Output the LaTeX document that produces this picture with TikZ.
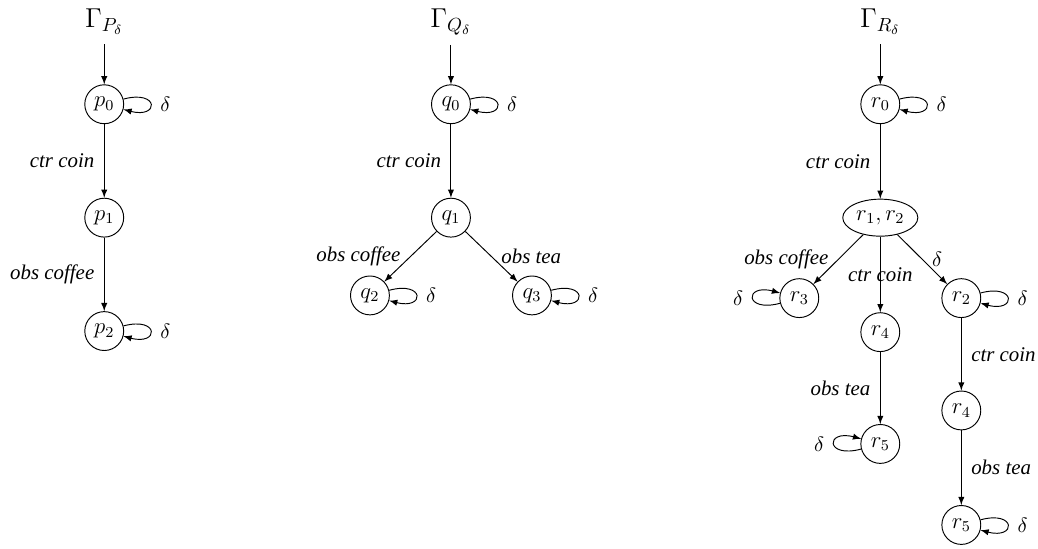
\documentclass[tikz,border=0pt]{standalone}
\usepackage{fontspec}
\setmainfont{Liberation Serif}
\usetikzlibrary{shapes.geometric,arrows}
\tikzset{%
every node/.style={font=\fontsize{11.5}{14}\selectfont},
nodest/.style={draw,circle,minimum size=0.72cm,inner sep=1pt},
nodeell/.style={draw,ellipse,minimum width=1.39cm,minimum height=0.685cm,inner sep=0pt},
nodetop/.style={font=\Large,inner sep=5pt},
lab/.style={font=\fontsize{11}{13}\selectfont\itshape,inner sep=5pt},
loopr/.style={loop,out=15,in=-15,min distance=6.9mm},
loopl/.style={loop,out=195,in=165,min distance=6.9mm},
}
\begin{document}
\begin{tikzpicture}[>=latex,line width=0.5pt]
    \useasboundingbox (0,0) rectangle (19.22,-10.15);
        % P
        \node[nodetop] (GP) at (1.93,-0.4) {$\Gamma_{P_\delta}$};
        \node[nodest] (p0) at (1.93,-1.93) {$p_0$};
        \node[nodest] (p1) at (1.93,-4.03) {$p_1$};
        \node[nodest] (p2) at (1.93,-6.13) {$p_2$};
        \draw[->](GP)--(p0);
        \draw[->](p0)--node[lab,left]{ctr coin}(p1);
        \draw[->](p1)--node[lab,left]{obs coffee}(p2);
        \draw[->](p0) to[loopr] node[lab,right]{$\delta$} (p0);
        \draw[->](p2) to[loopr] node[lab,right]{$\delta$} (p2);
        % Q
        \node[nodetop] (GQ) at (8.35,-0.4) {$\Gamma_{Q_\delta}$};
        \node[nodest] (q0) at (8.35,-1.93) {$q_0$};
        \node[nodest] (q1) at (8.35,-4.03) {$q_1$};
        \node[nodest] (q2) at (6.85,-5.47) {$q_2$};
        \node[nodest] (q3) at (9.85,-5.47) {$q_3$};
        \draw[->](GQ)--(q0);
        \draw[->](q0)--node[lab,left]{ctr coin}(q1);
        \draw[->](q1)--node[lab,left]{obs coffee}(q2);
        \draw[->](q1)--node[lab,right]{obs tea}(q3);
        \draw[->](q0) to[loopr] node[lab,right]{$\delta$} (q0);
        \draw[->](q2) to[loopr] node[lab,right]{$\delta$} (q2);
        \draw[->](q3) to[loopr] node[lab,right]{$\delta$} (q3);
        % R
        \node[nodetop] (GR) at (16.3,-0.4) {$\Gamma_{R_\delta}$};
        \node[nodest] (r0) at (16.3,-1.93) {$r_0$};
        \node[nodeell] (r12) at (16.3,-4.03) {$r_1,r_2$};
        \node[nodest] (r3) at (14.8,-5.52) {$r_3$};
        \node[nodest] (r2) at (17.8,-5.52) {$r_2$};
        \node[nodest] (r4) at (16.3,-6.15) {$r_4$};
        \node[nodest] (r5) at (16.3,-8.22) {$r_5$};
        \node[nodest] (r4b) at (17.8,-7.6) {$r_4$};
        \node[nodest] (r5b) at (17.8,-9.72) {$r_5$};
        \draw[->](GR)--(r0);
        \draw[->](r0)--node[lab,left]{ctr coin}(r12);
        \draw[->](r12)--node[lab,left]{obs coffee}(r3);
        \draw[->](r12)--node[lab]{ctr coin}(r4);
        \draw[->](r12)--node[lab,right]{$\delta$}(r2);
        \draw[->](r4)--node[lab,left]{obs tea}(r5);
        \draw[->](r2)--node[lab,right]{ctr coin}(r4b);
        \draw[->](r4b)--node[lab,right]{obs tea}(r5b);
        \draw[->](r0) to[loopr] node[lab,right]{$\delta$} (r0);
        \draw[->](r3) to[loopl] node[lab,left]{$\delta$} (r3);
        \draw[->](r2) to[loopr] node[lab,right]{$\delta$} (r2);
        \draw[->](r5) to[loopl] node[lab,left]{$\delta$} (r5);
        \draw[->](r5b) to[loopr] node[lab,right]{$\delta$} (r5b);
\end{tikzpicture}
\end{document}
